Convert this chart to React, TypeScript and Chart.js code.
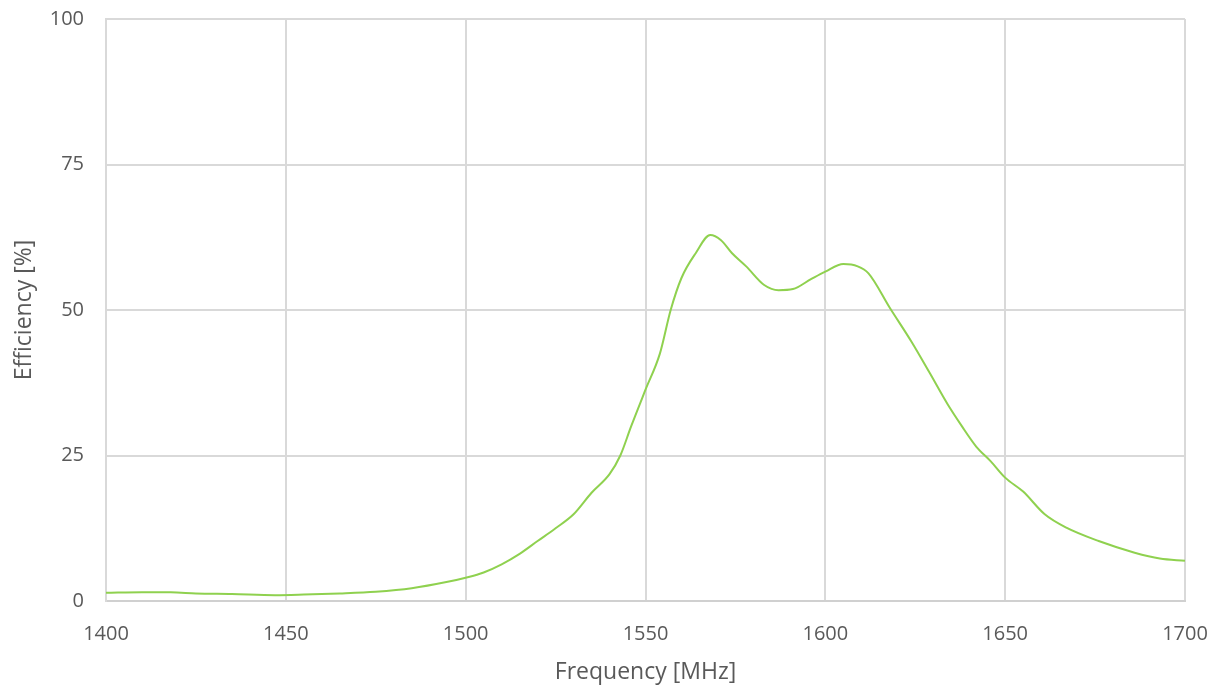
import React, { useEffect, useRef } from "react";
import { Chart, registerables } from "chart.js";

Chart.register(...registerables);

const frequencies = [1400, 1410, 1418, 1425, 1435, 1447, 1455, 1465, 1475, 1485, 1495, 1500, 1505, 1510, 1515, 1520, 1525, 1530, 1535, 1540, 1543, 1546, 1550, 1554, 1557, 1560, 1564, 1568, 1571, 1574, 1578, 1583, 1587, 1591, 1596, 1600, 1605, 1609, 1612, 1618, 1624, 1629, 1634, 1638, 1642, 1646, 1650, 1655, 1661, 1667, 1676, 1686, 1693, 1700];
const efficiency = [1.4, 1.5, 1.5, 1.3, 1.2, 1.0, 1.1, 1.3, 1.6, 2.2, 3.3, 4.0, 4.9, 6.3, 8.1, 10.3, 12.5, 14.9, 18.6, 21.8, 25.0, 30.0, 36.3, 42.5, 50.0, 55.5, 59.8, 62.9, 62.0, 59.8, 57.5, 54.3, 53.4, 53.6, 55.3, 56.6, 57.9, 57.5, 56.3, 50.3, 44.5, 39.2, 33.8, 30.0, 26.5, 24.0, 21.2, 18.8, 14.9, 12.6, 10.3, 8.3, 7.3, 6.9];

const xTitle = "Frequency [MHz]";
const yTitle = "Efficiency [%]";

export default function App() {
  const ref = useRef<HTMLCanvasElement>(null);
  useEffect(() => {
    document.body.style.margin = "0";
    if (!ref.current) return;
    const text = "#595959";
    const grid = "#d9d9d9";
    const family = "'Open Sans', 'DejaVu Sans', sans-serif";
    const font = { family, size: 20 };
    const titleFont = { family, size: 23 };
    const chart = new Chart(ref.current, {
      type: "line",
      data: {
        datasets: [
          {
            data: frequencies.map((f, i) => ({ x: f, y: efficiency[i] })),
            borderColor: "#8fd14f",
            borderWidth: 2,
            pointRadius: 0,
            fill: false,
            cubicInterpolationMode: "monotone",
          },
        ],
      },
      options: {
        animation: false,
        responsive: false,
        layout: { padding: { top: 19, right: 38, left: 0, bottom: 0 } },
        plugins: { legend: { display: false }, tooltip: { enabled: false } },
        scales: {
          x: {
            type: "linear",
            min: 1400,
            max: 1700,
            ticks: { stepSize: 50, color: text, font, padding: 21, callback: (v: any) => String(v) },
            grid: { color: grid, lineWidth: 2, drawTicks: false },
            border: { color: "#d0d0d0", width: 2 },
            title: { display: true, text: xTitle, color: text, font: titleFont, padding: { top: 0, bottom: 4 } },
            afterFit: (s: any) => { s.height = 89; s.paddingLeft = 0; s.paddingRight = 0; },
          },
          y: {
            min: 0,
            max: 100,
            ticks: { stepSize: 25, color: text, font, padding: 22 },
            grid: { color: grid, lineWidth: 2, drawTicks: false },
            border: { color: grid, width: 2 },
            title: { display: true, text: yTitle, color: text, font: titleFont, padding: { top: 11, bottom: 0 } },
            afterFit: (s: any) => { s.width = 106; s.paddingTop = 0; s.paddingBottom = 0; },
          },
        },
      },
    });
    return () => chart.destroy();
  }, []);
  return (
    <div style={{ width: 1223, height: 690 }}>
      <canvas ref={ref} width={1223} height={690} style={{ display: "block" }} />
    </div>
  );
}
